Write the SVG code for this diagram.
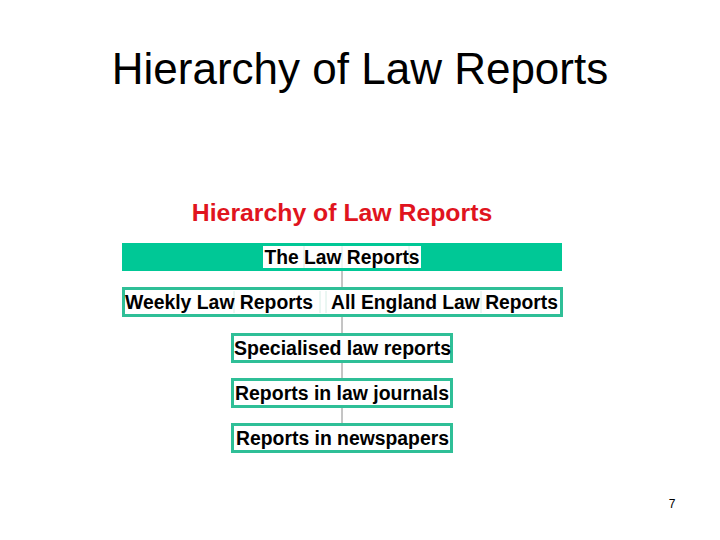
<svg xmlns="http://www.w3.org/2000/svg" width="720" height="540" viewBox="0 0 720 540">
<style>
.t{font-family:"Liberation Sans",Arial,sans-serif;font-weight:bold;font-size:20px;fill:#000;text-anchor:middle}
.box{fill:#fff;stroke:#2fbf97;stroke-width:3}
.sep{stroke:#d6eee6;stroke-width:1}
.conn{stroke:#8a8a8a;stroke-width:1;fill:none}
</style>
<rect width="720" height="540" fill="#fff"/>
<text x="360" y="84" font-family="Liberation Sans,Arial,sans-serif" font-size="44" text-anchor="middle" fill="#000">Hierarchy of Law Reports</text>
<text x="342" y="221" font-family="Liberation Sans,Arial,sans-serif" font-size="24.8" font-weight="bold" text-anchor="middle" fill="#e0141e">Hierarchy of Law Reports</text>
<g id="connectors">
<line class="conn" x1="342" y1="271" x2="342" y2="423"/>
</g>
<g id="n1">
<rect x="122" y="243" width="440" height="28" fill="#00c896"/>
<rect x="263" y="246" width="158" height="22" fill="#fff"/>
<line class="sep" x1="304" y1="246" x2="304" y2="268"/>
<line class="sep" x1="342" y1="246" x2="342" y2="268"/>
<line class="sep" x1="409" y1="246" x2="409" y2="268"/>
<text class="t" x="342" y="264" textLength="155" lengthAdjust="spacingAndGlyphs">The Law Reports</text>
</g>
<g id="n2">
<rect class="box" x="123.5" y="288.5" width="438" height="27"/>
<line class="sep" x1="234" y1="291" x2="234" y2="313"/>
<line class="sep" x1="320" y1="291" x2="320" y2="313"/>
<line class="sep" x1="326" y1="291" x2="326" y2="313"/>
<line class="sep" x1="481" y1="291" x2="481" y2="313"/>
<text class="t" x="219" y="309" textLength="188" lengthAdjust="spacingAndGlyphs">Weekly Law Reports</text>
<text class="t" x="444.5" y="309" textLength="227" lengthAdjust="spacingAndGlyphs">All England Law Reports</text>
</g>
<g id="n3">
<rect class="box" x="232.5" y="334.5" width="219" height="27"/>
<text class="t" x="342.5" y="355" textLength="217" lengthAdjust="spacingAndGlyphs">Specialised law reports</text>
</g>
<g id="n4">
<rect class="box" x="232.5" y="379.5" width="219" height="27"/>
<text class="t" x="342" y="400" textLength="214" lengthAdjust="spacingAndGlyphs">Reports in law journals</text>
</g>
<g id="n5">
<rect class="box" x="232.5" y="424.5" width="219" height="27"/>
<text class="t" x="342.5" y="445" textLength="213" lengthAdjust="spacingAndGlyphs">Reports in newspapers</text>
</g>
<text x="672" y="508" font-family="Liberation Sans,Arial,sans-serif" font-size="12" text-anchor="middle" fill="#000">7</text>
</svg>
